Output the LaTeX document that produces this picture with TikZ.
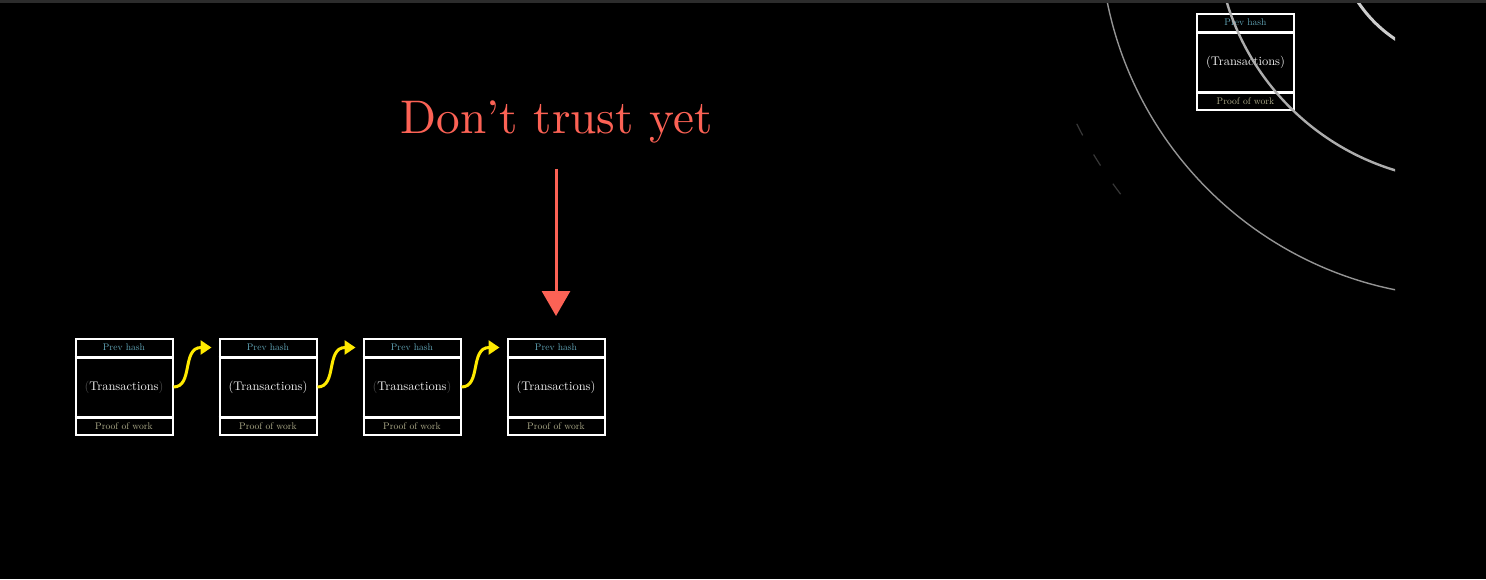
\documentclass[tikz,border=0pt]{standalone}
\usepackage{fontspec}
\setmainfont{lmroman10-regular}[Extension=.otf]
\usetikzlibrary{arrows.meta,calc}
\definecolor{bred}{HTML}{FC6255}
\definecolor{byel}{HTML}{FFEA00}
\definecolor{phc}{HTML}{62A6B8}
\definecolor{pwc}{HTML}{B0AE8C}
\definecolor{txc}{HTML}{F2F2F2}
\definecolor{bar}{HTML}{2C2C2C}
\tikzset{
  blk/.style={draw=white, line width=2pt, minimum width=97pt, minimum height=96pt, inner sep=0pt},
  divline/.style={draw=white, line width=3pt},
  phtxt/.style={text=phc, font=\fontsize{9.6}{11}\selectfont, inner sep=0pt},
  pwtxt/.style={text=pwc, font=\fontsize{9.6}{11}\selectfont, inner sep=0pt},
  txtxt/.style={text=txc, font=\fontsize{12.5}{14}\selectfont, inner sep=0pt},
  yelarrow/.style={draw=byel, line width=3pt, -{Triangle[length=11pt,width=14pt]}},
  redarrow/.style={draw=bred, line width=3pt, -{Triangle[length=25pt,width=28pt]}},
  ring/.style={line width=#1},
}
\newcommand{\dimp}[1]{\textcolor{white!30!black}{#1}}
\begin{document}
\begin{tikzpicture}[x=1pt,y=-1pt]
\useasboundingbox (0,0) rectangle (1486,579);
\fill[black] (0,0) rectangle (1486,579);
\fill[bar] (0,0) rectangle (1486,3);

% blocks
\foreach \i/\cx/\cy in {1/124/387, 2/268/387, 3/412/387, 4/556/387, 5/1245.5/62} {
  \node[blk] (b\i) at (\cx,\cy) {};
  \draw[divline] ([yshift=-19pt]b\i.north west) -- ([yshift=-19pt]b\i.north east);
  \draw[divline] ([yshift=19pt]b\i.south west) -- ([yshift=19pt]b\i.south east);
  \node[phtxt] (ph\i) at ([yshift=-9.5pt]b\i.north) {Prev hash};
  \node[pwtxt] (pw\i) at ([yshift=9.5pt]b\i.south) {Proof of work};
}
\node[txtxt] (tx1) at (b1.center) {\dimp{(}Transactions\dimp{)}};
\node[txtxt] (tx2) at (b2.center) {(Transactions)};
\node[txtxt] (tx3) at (b3.center) {\dimp{(}Transactions\dimp{)}};
\node[txtxt] (tx4) at (b4.center) {(Transactions)};
\node[txtxt] (tx5) at (b5.center) {(Transactions)};

% yellow links
\foreach \a/\b in {1/2, 2/3, 3/4} {
  \draw[yelarrow] (b\a.east) .. controls +(20,0) and +(-30,0) .. ([xshift=-7pt,yshift=-9.5pt]b\b.north west);
}

% title and red arrow
\node[text=bred, font=\fontsize{47.2}{50}\selectfont, anchor=base, inner sep=0pt] (title) at (556.5,133) {Don't trust yet};
\draw[redarrow] ([yshift=-26pt]title.south -| b4.north) -- ([yshift=22pt]b4.north);

% rings at upper right
\coordinate (rc) at (1468,-71);
\begin{scope}
  \clip (0,3) rectangle (1395,579);
  \draw[ring=3pt, color=white!80!black] (rc) circle[radius=132pt];
  \draw[ring=2.4pt, color=white!68!black] (rc) circle[radius=252pt];
  \draw[ring=1.4pt, color=white!58!black] (rc) circle[radius=368pt];
  \begin{scope}
    \clip (1070,118) rectangle (1122,195);
    \draw[line width=1.2pt, color=white!22!black, dash pattern=on 13pt off 22pt] (rc) circle[radius=437pt];
  \end{scope}
\end{scope}
\end{tikzpicture}
\end{document}
